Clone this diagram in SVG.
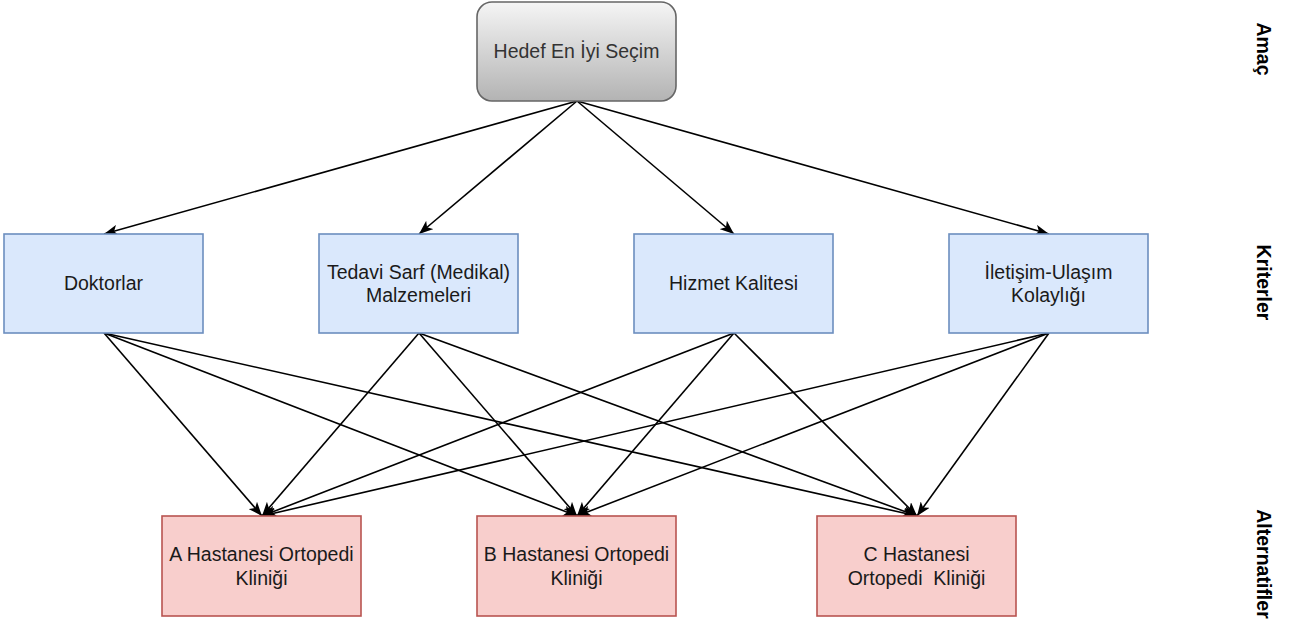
<svg xmlns="http://www.w3.org/2000/svg" width="1291" height="625" viewBox="0 0 1291 625">
<style>
.t{font-family:"Liberation Sans",Arial,Helvetica,sans-serif;font-size:19.5px;fill:#1a1a1a;text-anchor:middle}
.side{font-family:"Liberation Sans",Arial,Helvetica,sans-serif;font-size:19.5px;font-weight:bold;fill:#000;text-anchor:middle}
.crit{fill:#dae8fc;stroke:#6c8ebf;stroke-width:1.6}
.alt{fill:#f8cecc;stroke:#b85450;stroke-width:1.6}
.e{stroke:#000;stroke-width:1.6;fill:none;marker-end:url(#arr)}
</style>
<defs>
<linearGradient id="g" x1="0" y1="0" x2="0" y2="1">
<stop offset="0" stop-color="#f5f5f5"/>
<stop offset="1" stop-color="#b3b3b3"/>
</linearGradient>
<marker id="arr" viewBox="0 0 14 11" refX="14" refY="5.5" markerWidth="14" markerHeight="11" markerUnits="userSpaceOnUse" orient="auto">
<path d="M0,0 L14,5.5 L0,11 L3.5,5.5 z" fill="#000"/>
</marker>
</defs>
<g id="connectors">
<line class="e" x1="577" y1="101" x2="104" y2="234"/>
<line class="e" x1="577" y1="101" x2="419" y2="234"/>
<line class="e" x1="577" y1="101" x2="734" y2="234"/>
<line class="e" x1="577" y1="101" x2="1049" y2="234"/>
<line class="e" x1="104" y1="333" x2="262" y2="516"/>
<line class="e" x1="104" y1="333" x2="577" y2="516"/>
<line class="e" x1="104" y1="333" x2="917" y2="516"/>
<line class="e" x1="419" y1="333" x2="262" y2="516"/>
<line class="e" x1="419" y1="333" x2="577" y2="516"/>
<line class="e" x1="419" y1="333" x2="917" y2="516"/>
<line class="e" x1="734" y1="333" x2="262" y2="516"/>
<line class="e" x1="734" y1="333" x2="577" y2="516"/>
<line class="e" x1="734" y1="333" x2="917" y2="516"/>
<line class="e" x1="1049" y1="333" x2="262" y2="516"/>
<line class="e" x1="1049" y1="333" x2="577" y2="516"/>
<line class="e" x1="1049" y1="333" x2="917" y2="516"/>
</g>
<g id="goal">
<rect x="477" y="2" width="199" height="99" rx="15" ry="15" fill="url(#g)" stroke="#666666" stroke-width="1.6"/>
<text class="t" x="576.5" y="57.5" style="fill:#333333">Hedef En İyi Seçim</text>
</g>
<g id="doktorlar">
<rect class="crit" x="4" y="234" width="199" height="99"/>
<text class="t" x="103.5" y="290">Doktorlar</text>
</g>
<g id="tedavi">
<rect class="crit" x="319" y="234" width="199" height="99"/>
<text class="t" x="418.5" y="278.5">Tedavi Sarf (Medikal)</text>
<text class="t" x="418.5" y="302">Malzemeleri</text>
</g>
<g id="hizmet">
<rect class="crit" x="634" y="234" width="199" height="99"/>
<text class="t" x="733.5" y="290">Hizmet Kalitesi</text>
</g>
<g id="iletisim">
<rect class="crit" x="949" y="234" width="199" height="99"/>
<text class="t" x="1048.5" y="278.5">İletişim-Ulaşım</text>
<text class="t" x="1048.5" y="302">Kolaylığı</text>
</g>
<g id="a-hastanesi">
<rect class="alt" x="162" y="516" width="199" height="100"/>
<text class="t" x="261.5" y="561">A Hastanesi Ortopedi</text>
<text class="t" x="261.5" y="584.5">Kliniği</text>
</g>
<g id="b-hastanesi">
<rect class="alt" x="477" y="516" width="199" height="100"/>
<text class="t" x="576.5" y="561">B Hastanesi Ortopedi</text>
<text class="t" x="576.5" y="584.5">Kliniği</text>
</g>
<g id="c-hastanesi">
<rect class="alt" x="817" y="516" width="199" height="100"/>
<text class="t" x="916.5" y="561">C Hastanesi</text>
<text class="t" x="916.5" y="584.5" style="white-space:pre">Ortopedi  Kliniği</text>
</g>
<g id="labels">
<text class="side" transform="translate(1257,49) rotate(90)">Amaç</text>
<text class="side" transform="translate(1257,282.5) rotate(90)">Kriterler</text>
<text class="side" transform="translate(1257,564) rotate(90)">Alternatifler</text>
</g>
</svg>
